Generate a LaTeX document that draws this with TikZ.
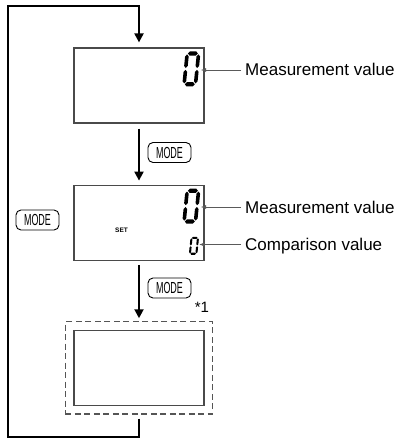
\documentclass[tikz,border=0pt]{standalone}
\usepackage{fontspec}
\setmainfont{Liberation Sans}
\newfontfamily\keyfont[FakeStretch=0.56]{Liberation Sans}
\usetikzlibrary{arrows.meta,positioning,fit}
\definecolor{panelgray}{HTML}{4A4A4A}
\definecolor{leadgray}{HTML}{5A5A5A}
\definecolor{dashgray}{HTML}{555555}

\tikzset{
  pics/segzero/.style={code={
    \foreach \dy in {0,1.76}
      \fill ({0.17},{0.12+\dy}) -- ({0.29},{\dy}) -- ({0.71},{\dy}) -- ({0.83},{0.12+\dy}) -- ({0.71},{0.24+\dy}) -- ({0.29},{0.24+\dy}) -- cycle;
    \foreach \dx in {0,0.76}
      \foreach \dy in {0,0.88}
        \fill ({0.12+\dx},{0.17+\dy}) -- ({0.24+\dx},{0.29+\dy}) -- ({0.24+\dx},{0.83+\dy}) -- ({0.12+\dx},{0.95+\dy}) -- ({\dx},{0.83+\dy}) -- ({\dx},{0.29+\dy}) -- cycle;
    \coordinate (-e) at (1.15,1);
  }}
}

\begin{document}
\begin{tikzpicture}[x=1pt, y=-1pt, node distance=61pt,
    panel/.style={draw=panelgray, line width=1.2pt, minimum width=130pt, minimum height=75pt, inner sep=0pt},
    modekey/.style={draw=black, rounded corners=5pt, line width=0.9pt, minimum width=43pt, minimum height=20pt, inner sep=0pt, font=\keyfont\fontsize{16}{16}\selectfont},
    lbl/.style={anchor=west, inner sep=0pt, text height=12pt, text depth=0pt, font=\fontsize{17}{20}\selectfont},
    flow/.style={draw=black, line width=2pt, -{Triangle[length=9pt,width=9pt]}},
    leader/.style={draw=leadgray, line width=0.9pt, -{Triangle[length=5pt,width=3.5pt]}}]
  \useasboundingbox (0,0) rectangle (397,441);

  % display panels
  \node[panel] (box1) at (139,85.5) {};
  \node[panel, below=of box1] (box2) {};
  \node[panel, below=69pt of box2] (box3) {};
  \node[draw=dashgray, dashed, dash pattern=on 6pt off 3.5pt, line width=1.1pt, inner xsep=8pt, inner ysep=8pt, fit=(box3)] (frame) {};
  \node[font=\fontsize{15}{15}\selectfont, inner sep=0pt] (note) at (202,307) {*1};

  % digits
  \pic[xslant=0.1, xscale=15, yscale=17.5] (dA) at ([xshift=-19pt,yshift=-4pt]box1.north east) {segzero};
  \pic[xslant=0.1, xscale=15, yscale=17.5] (dB) at ([xshift=-19pt,yshift=-4pt]box2.north east) {segzero};
  \pic[xslant=0.1, xscale=8.5, yscale=9] (dC) at ([xshift=-14pt,yshift=24pt]box2.south east) {segzero};
  \node[font=\bfseries\fontsize{6.5}{6.5}\selectfont, inner sep=0pt] (setmark) at (121.5,230.5) {SET};

  % labels
  \node[lbl] (labA) at (245,70) {Measurement value};
  \node[lbl] (labB) at (245,207) {Measurement value};
  \node[lbl] (labC) at (245,244.5) {Comparison value};
  \draw[leader] ([xshift=-4pt]labA.west) -- (labA.west -| dA-e);
  \draw[leader] ([xshift=-4pt]labB.west) -- (labB.west -| dB-e);
  \draw[leader] ([xshift=-4pt]labC.west) -- (labC.west -| dC-e);

  % mode keys
  \node[modekey] (key1) at (169.5,152.5) {MODE};
  \node[modekey] (key2) at (37.5,220) {MODE};
  \node[modekey] (key3) at (169.5,288) {MODE};

  % flow
  \coordinate (tl) at (8,6);
  \coordinate (bl) at (8,437);
  \draw[flow, shorten <=5pt, shorten >=4pt] (box1) -- (box2);
  \draw[flow, shorten <=4pt, shorten >=3pt] (box2) -- (frame);
  \draw[flow, shorten >=5pt, line join=miter] ([yshift=-4pt]frame.south) |- (bl) -- (tl) -| (box1.north);
\end{tikzpicture}
\end{document}
